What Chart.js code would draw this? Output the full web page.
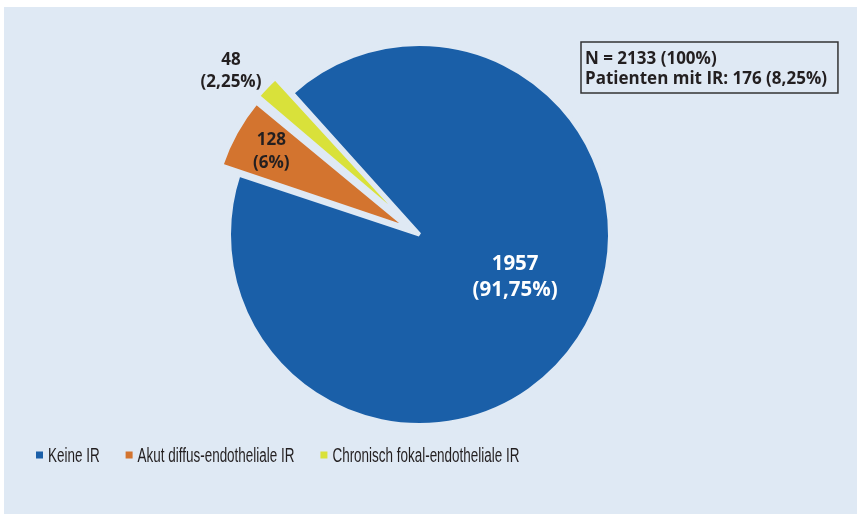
<!DOCTYPE html>
<html>
<head>
  <meta charset="utf-8" />
  <title>Immunreaktionen</title>
  <script src="https://cdn.jsdelivr.net/npm/chart.js@4.4.1/dist/chart.umd.min.js"></script>
  <style>
    body { margin: 0; background: white; }
    .panel {
      position: absolute;
      left: 4px;
      top: 7px;
      width: 853px;
      height: 507px;
      background: #dfe9f4;
    }
  </style>
</head>
<body>
  <div class="panel"><canvas id="pie" width="853" height="507"></canvas></div>

  <script>
    // data
    const categories = ["Keine IR", "Akut diffus-endotheliale IR", "Chronisch fokal-endotheliale IR"];
    const patients = [1957, 128, 48];
    const sliceColors = ["#1a5fa8", "#d3742f", "#d9e13a"];
    const labelColors = ["#ffffff", "#231f20", "#231f20"];

    const panelColor = "#dfe9f4";
    const total = patients.reduce((a, b) => a + b, 0);
    const withIR = total - patients[0];

    function pct(v) {
      return (v / total * 100).toLocaleString("de-DE", { maximumFractionDigits: 2 }) + "%";
    }

    // where each value label sits: fraction of the radius, angle nudge in degrees
    const labelRadius = [0.55, 0.89, 1.31];
    const labelTurn = [-9, 0, -3];
    const labelSize = [20.5, 17, 17];
    const labelLead = [26, 23, 22];

    const labelsPlugin = {
      id: "sliceLabels",
      afterDraw(chart) {
        const ctx = chart.ctx;
        const arcs = chart.getDatasetMeta(0).data;
        ctx.save();
        ctx.textAlign = "center";
        ctx.textBaseline = "middle";
        arcs.forEach((arc, i) => {
          const p = arc.getProps(["x", "y", "startAngle", "endAngle", "outerRadius"], true);
          const a = (p.startAngle + p.endAngle) / 2 + labelTurn[i] * Math.PI / 180;
          const r = p.outerRadius * labelRadius[i];
          const x = p.x + Math.cos(a) * r;
          const y = p.y + Math.sin(a) * r;
          ctx.fillStyle = labelColors[i];
          ctx.font = "bold " + labelSize[i] + "px 'Open Sans'";
          ctx.fillText(String(patients[i]), x, y - labelLead[i] / 2);
          ctx.fillText("(" + pct(patients[i]) + ")", x, y + labelLead[i] / 2);
        });
        ctx.restore();
      }
    };

    const boxPlugin = {
      id: "summaryBox",
      afterDraw(chart) {
        const ctx = chart.ctx;
        const lines = [
          "N = " + total + " (100%)",
          "Patienten mit IR: " + withIR + " (" + pct(withIR) + ")"
        ];
        ctx.save();
        ctx.font = "bold 17px 'Open Sans'";
        const w = Math.max(...lines.map(l => ctx.measureText(l).width));
        const left = 577, top = 35;
        ctx.strokeStyle = "#333333";
        ctx.lineWidth = 1.5;
        ctx.strokeRect(left, top, w + 15, 51);
        ctx.fillStyle = "#231f20";
        ctx.textBaseline = "alphabetic";
        ctx.fillText(lines[0], left + 4, top + 21.5);
        ctx.fillText(lines[1], left + 4, top + 41.5);
        ctx.restore();
      }
    };

    const legendPlugin = {
      id: "bottomLegend",
      afterDraw(chart) {
        const ctx = chart.ctx;
        const squeeze = 0.69;
        let x = 32;
        const y = 448;
        ctx.save();
        ctx.font = "19.5px 'Liberation Sans'";
        ctx.textBaseline = "alphabetic";
        categories.forEach((c, i) => {
          ctx.fillStyle = sliceColors[i];
          ctx.fillRect(x, y - 3.5, 7, 7);
          x += 12;
          ctx.fillStyle = "#231f20";
          ctx.save();
          ctx.translate(x, y + 6.5);
          ctx.scale(squeeze, 1);
          ctx.fillText(c, 0, 0);
          ctx.restore();
          x += ctx.measureText(c).width * squeeze + 26;
        });
        ctx.restore();
      }
    };

    new Chart(document.getElementById("pie"), {
      type: "pie",
      data: {
        labels: categories,
        datasets: [
          {
            data: patients,
            backgroundColor: sliceColors,
            borderColor: panelColor,
            borderWidth: [4, 4, 4],
            offset: [0, 48, 48],
            hoverOffset: 0
          }
        ]
      },
      options: {
        responsive: false,
        animation: false,
        rotation: -42,
        radius: 190.5,
        layout: { padding: { left: 0, right: 22, top: 0, bottom: 52 } },
        plugins: {
          legend: { display: false },
          tooltip: { enabled: false }
        }
      },
      plugins: [labelsPlugin, boxPlugin, legendPlugin]
    });
  </script>
</body>
</html>
